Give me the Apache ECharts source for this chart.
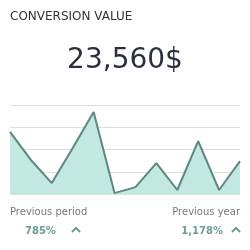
<!DOCTYPE html>
<html>
<head>
<meta charset="utf-8">
<script src="https://cdn.jsdelivr.net/npm/echarts@6/dist/echarts.min.js"></script>
<style>
  html, body { margin: 0; padding: 0; background: #fff; }
  #chart { width: 250px; height: 250px; }
</style>
</head>
<body>
<div id="chart"></div>
<script>
// data
let periods = ['1', '2', '3', '4', '5', '6', '7', '8', '9', '10', '11', '12'];
let values = [2.79, 1.53, 0.49, 2.07, 3.69, 0.04, 0.31, 1.39, 0.18, 2.38, 0.18, 1.48];
let yTicks = [0, 1, 2, 3, 4];

let headline = 'CONVERSION VALUE';
let total = '23,560$';
let compareNames = ['Previous period', 'Previous year'];
let compareValues = ['785%', '1,178%'];

let font = '"DejaVu Sans"';
let upColor = '#6e9c96';

// little up chevron next to the percentages
function chevron(x, y) {
  return {
    type: 'polyline',
    shape: { points: [[x, y + 4], [x + 4, y], [x + 8, y + 4]] },
    style: { stroke: upColor, lineWidth: 2, fill: null }
  };
}

let chart = echarts.init(document.getElementById('chart'));
chart.setOption({
  animation: false,
  title: [{
    text: headline,
    left: 10,
    top: 11,
    padding: 0,
    textStyle: { fontFamily: font, fontSize: 12, fontWeight: 'normal', color: '#333' }
  }, {
    text: total,
    left: 'center',
    top: 42,
    textStyle: { fontFamily: font, fontSize: 28, fontWeight: 'normal', color: '#2c2f3e' }
  }],
  grid: { left: 10, right: 10, top: 105, bottom: 56 },
  xAxis: {
    type: 'category',
    data: periods,
    boundaryGap: false,
    axisLine: { show: false },
    axisTick: { show: false },
    axisLabel: { show: false }
  },
  yAxis: {
    type: 'value',
    min: yTicks[0],
    max: yTicks[yTicks.length - 1],
    interval: 1,
    axisLabel: { show: false },
    splitLine: { lineStyle: { color: '#dedede', width: 1 } }
  },
  series: [{
    type: 'line',
    data: values,
    symbol: 'none',
    lineStyle: { color: '#5c8783', width: 2 },
    areaStyle: { color: '#c2e8df', opacity: 1 }
  }],
  graphic: [{
    type: 'text', left: 10, top: 207,
    style: { text: compareNames[0], font: '10px ' + font, fill: '#777' }
  }, {
    type: 'text', right: 10, top: 207,
    style: { text: compareNames[1], font: '10px ' + font, fill: '#777' }
  }, {
    type: 'text', left: 25, top: 226,
    style: { text: compareValues[0], font: 'bold 10px ' + font, fill: upColor }
  }, {
    type: 'text', right: 27, top: 226,
    style: { text: compareValues[1], font: 'bold 10px ' + font, fill: upColor }
  },
  chevron(72, 228),
  chevron(232, 228)]
});
</script>
</body>
</html>
